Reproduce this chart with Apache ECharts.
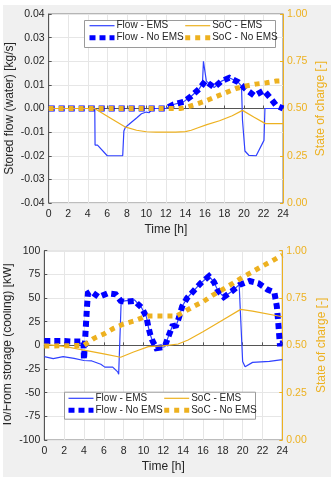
<!DOCTYPE html>
<html>
<head>
<meta charset="utf-8">
<script src="https://cdn.jsdelivr.net/npm/echarts@6/dist/echarts.min.js"></script>
<style>
  html, body { margin: 0; padding: 0; background: #fff; }
  #chart { position: absolute; left: 3px; top: 5px; width: 328px; height: 472px; background: #f0f0f0; }
</style>
</head>
<body>
<div id="chart"></div>
<script>
const gold = '#EDB120'
const blue = '#0000ff'
const thinBlue = '#2f40ff'

// top chart: stored flow (water) [kg/s] and state of charge
const flowEmsTop = [[0, 0], [4.72, 0], [4.75, -0.0155], [5.0, -0.0155], [5.2, -0.016], [6.0, -0.02], [7.58, -0.02],
  [7.7, -0.0095], [7.85, -0.008], [8.2, -0.0068], [9.0, -0.004], [9.5, -0.0022], [10.0, -0.0015], [10.3, -0.0018],
  [10.5, -0.0022], [10.6, 0], [12.0, 0], [12.77, 0.0017], [13.8, 0.0028], [14.6, 0.0052], [15.4, 0.0082],
  [15.75, 0.0105], [15.85, 0.02], [16.05, 0.02], [16.15, 0.0116], [16.95, 0.0089], [17.7, 0.0116], [18.5, 0.013],
  [19.4, 0.0112], [19.75, 0.0095], [19.85, -0.005], [20.1, -0.018], [20.5, -0.0198], [21.25, -0.02],
  [22.05, -0.0135], [22.15, 0], [24, 0]]
const flowNoEmsTop = [[0, 0], [12.0, 0], [12.77, 0.0017], [13.8, 0.0028], [14.6, 0.0052], [15.4, 0.0082],
  [16.05, 0.0116], [16.95, 0.0089], [17.7, 0.0116], [18.5, 0.013], [19.4, 0.0112], [20.3, 0.0078],
  [21.07, 0.0054], [22.04, 0.0076], [22.7, 0.0045], [23.3, 0.0013], [24, 0]]
const socEmsTop = [[0, 0.5], [4.7, 0.5], [6.3, 0.45], [7.8, 0.403], [9, 0.385], [10, 0.377], [11, 0.375],
  [13, 0.375], [14, 0.378], [14.6, 0.385], [15.3, 0.398], [16.2, 0.415], [17.5, 0.435], [18.8, 0.462],
  [19.85, 0.49], [21, 0.455], [22.2, 0.42], [24, 0.42]]
const socNoEmsTop = [[0, 0.5], [13.5, 0.5], [14, 0.505], [15, 0.521], [16.1, 0.54], [17.1, 0.562], [18.1, 0.583],
  [19.2, 0.606], [20.1, 0.618], [21.2, 0.629], [22.3, 0.636], [23.3, 0.645], [24, 0.647]]

// bottom chart: to/from storage (cooling) [kW] and state of charge
const flowEmsBottom = [[0, -12], [0.9, -14], [1.9, -12], [3, -13.7], [4, -16], [4.8, -16.5], [5.7, -20], [6.1, -23],
  [6.9, -23], [7.4, -28], [7.5, -30.6], [7.75, 46], [8.1, 47], [9.1, 48], [9.8, 40], [10.3, 30], [10.5, 19],
  [10.7, 11], [10.9, 5], [11.3, -3], [12.15, -1.5], [12.5, 9], [12.9, 20], [13.3, 21], [13.6, 30], [13.9, 41],
  [14.4, 50], [15.1, 58], [15.8, 66], [16.6, 73], [17.1, 67], [17.5, 58], [18.1, 51], [18.9, 57], [19.65, 64],
  [19.75, 62], [20.0, -17], [20.25, -22.5], [21, -18], [22.7, -17], [24, -15]]
const flowNoEmsBottom = [[0, 4.5], [2, 4.5], [3, 4], [3.95, 4], [4.0, -15], [4.2, -15], [4.3, 40], [4.4, 55],
  [4.7, 57], [5.5, 51], [6.4, 55], [7.2, 54], [7.7, 47], [8.1, 46], [9.1, 47], [9.8, 40], [10.3, 30], [10.5, 19],
  [10.7, 11], [10.9, 5], [11.3, -3], [12.15, -1.5], [12.5, 9], [12.9, 20], [13.3, 21], [13.6, 30], [13.9, 41],
  [14.4, 50], [15.1, 58], [15.8, 66], [16.6, 73], [17.1, 67], [17.5, 58], [18.1, 51], [18.9, 57], [19.7, 64],
  [20.7, 68], [21.6, 65.5], [22.5, 59], [23.2, 56], [23.45, 41], [23.6, 23], [23.75, 2], [24, 2]]
const socEmsBottom = [[0, 0.505], [2, 0.495], [4, 0.475], [6, 0.455], [7.7, 0.437], [9, 0.465], [10.5, 0.493],
  [12, 0.497], [13.5, 0.507], [14.5, 0.528], [16, 0.572], [18, 0.634], [19.8, 0.69], [21, 0.681], [24, 0.651]]
const socNoEmsBottom = [[0, 0.496], [4, 0.5], [5, 0.537], [6, 0.56], [7, 0.59], [8, 0.613], [9, 0.628],
  [10, 0.648], [10.5, 0.655], [13.3, 0.655], [14, 0.674], [15, 0.704], [16, 0.73], [17, 0.766], [18, 0.796],
  [19, 0.827], [20, 0.86], [21, 0.889], [22, 0.919], [23, 0.947], [24, 0.977]]

const flowNames = ['Flow - EMS', 'Flow - No EMS']
const socNames = ['SoC - EMS', 'SoC - No EMS']
const font = 'Liberation Sans, Arial, sans-serif'
const tickColor = '#262626'

function xAxis(gridIndex) {
  return {
    type: 'value', gridIndex, min: 0, max: 24, interval: 2,
    name: 'Time [h]', nameLocation: 'middle', nameGap: 21, nameMoveOverlap: false,
    nameTextStyle: { color: tickColor, fontSize: 12, fontFamily: font },
    axisLine: { lineStyle: { color: '#555' } },
    axisTick: { inside: true, length: 3, lineStyle: { color: '#555' } },
    axisLabel: { color: tickColor, fontSize: 10.5, fontFamily: font, margin: 6 },
    splitLine: { show: true, lineStyle: { color: '#e6e6e6' } }
  }
}

function leftAxis(gridIndex, min, max, interval, digits, name, gap) {
  return {
    type: 'value', gridIndex, position: 'left', min, max, interval,
    name, nameLocation: 'middle', nameGap: gap, nameMoveOverlap: false,
    nameTextStyle: { color: tickColor, fontSize: 12, fontFamily: font },
    axisLine: { show: true, lineStyle: { color: '#555' } },
    axisTick: { show: true, inside: true, length: 3, lineStyle: { color: '#555' } },
    axisLabel: { color: tickColor, fontSize: 10.5, fontFamily: font, margin: 4,
      formatter: v => v.toFixed(digits) },
    splitLine: { show: true, lineStyle: { color: '#e6e6e6' } }
  }
}

function rightAxis(gridIndex, gap) {
  return {
    type: 'value', gridIndex, position: 'right', min: 0, max: 1, interval: 0.25,
    name: 'State of charge [-]', nameLocation: 'middle', nameGap: gap, nameRotate: 90, nameMoveOverlap: false,
    nameTextStyle: { color: gold, fontSize: 12, fontFamily: font },
    axisLine: { show: true, lineStyle: { color: gold } },
    axisTick: { show: true, inside: true, length: 3, lineStyle: { color: gold } },
    axisLabel: { color: gold, fontSize: 10.5, fontFamily: font, margin: 4,
      formatter: v => v.toFixed(2) },
    splitLine: { show: false }
  }
}

// one legend column: solid EMS line on top, thick dotted No EMS line below
function legendColumn(pair, left, top) {
  return {
    orient: 'vertical', left, top, padding: 0, z: 10,
    itemWidth: 25, itemHeight: 10, itemGap: 2,
    itemStyle: { opacity: 0 },
    data: [
      { name: pair[0], lineStyle: { width: 1.2 } },
      { name: pair[1], lineStyle: { width: 5 } }
    ],
    textStyle: { color: tickColor, fontSize: 10, fontFamily: font, padding: [0, 0, 0, -3] }
  }
}

function legendBox(x, y) {
  return {
    type: 'rect', left: x, top: y, z: 9,
    shape: { width: 191, height: 27 },
    style: { fill: '#fff', stroke: '#9a9a9a', lineWidth: 1 }
  }
}

function lineSeries(name, data, xi, yi, dotted, color) {
  const dots = color === blue ? { width: 6, type: [6, 4] } : { width: 5, type: [5, 5] }
  return {
    name, type: 'line', data, xAxisIndex: xi, yAxisIndex: yi,
    showSymbol: false, symbol: 'none', animation: false,
    lineStyle: dotted
      ? { color, width: dots.width, type: dots.type, cap: 'butt', join: 'miter' }
      : { color, width: 1.2 },
    itemStyle: { color }
  }
}

const chart = echarts.init(document.getElementById('chart'))
chart.setOption({
  animation: false,
  grid: [
    { left: 45.7, right: 48, top: 9, height: 189, outerBoundsMode: 'none', containLabel: false,
      show: true, backgroundColor: '#fff', borderColor: '#7a7a7a', borderWidth: 1 },
    { left: 41.3, right: 48.7, top: 245.7, height: 189.3, outerBoundsMode: 'none', containLabel: false,
      show: true, backgroundColor: '#fff', borderColor: '#7a7a7a', borderWidth: 1 }
  ],
  xAxis: [xAxis(0), xAxis(1)],
  yAxis: [
    leftAxis(0, -0.04, 0.04, 0.01, 2, 'Stored flow (water) [kg/s]', 33),
    rightAxis(0, 32),
    leftAxis(1, -100, 100, 25, 0, 'To/From storage (cooling) [kW]', 31),
    rightAxis(1, 33)
  ],
  legend: [
    legendColumn(flowNames, 84, 15.7),
    legendColumn(socNames, 179.7, 15.7),
    legendColumn(flowNames, 63, 388.3),
    legendColumn(socNames, 158.7, 388.3)
  ],
  graphic: [legendBox(81, 15), legendBox(61, 386.7)],
  series: [
    lineSeries(flowNames[0], flowEmsTop, 0, 0, false, thinBlue),
    lineSeries(flowNames[1], flowNoEmsTop, 0, 0, true, blue),
    lineSeries(socNames[0], socEmsTop, 0, 1, false, gold),
    lineSeries(socNames[1], socNoEmsTop, 0, 1, true, gold),
    lineSeries(flowNames[0], flowEmsBottom, 1, 2, false, thinBlue),
    lineSeries(flowNames[1], flowNoEmsBottom, 1, 2, true, blue),
    lineSeries(socNames[0], socEmsBottom, 1, 3, false, gold),
    lineSeries(socNames[1], socNoEmsBottom, 1, 3, true, gold)
  ]
})
</script>
</body>
</html>
